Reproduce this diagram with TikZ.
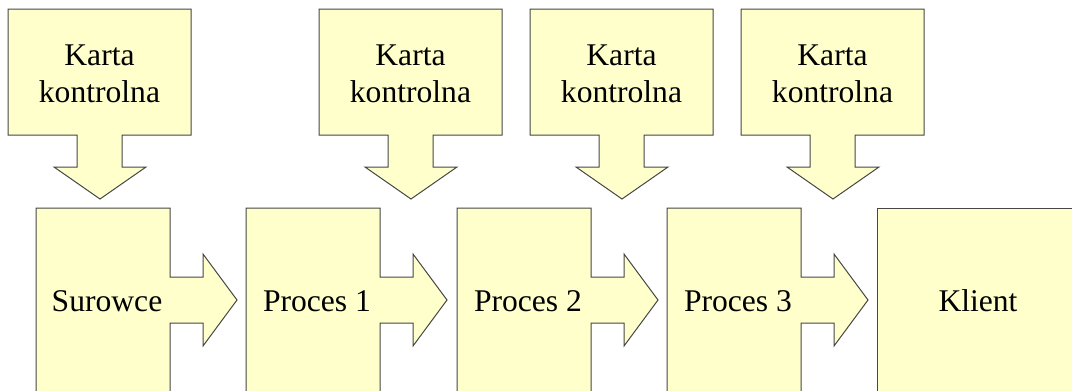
\documentclass[tikz,border=0pt]{standalone}
\usepackage{fontspec}
\setmainfont{Liberation Serif}
\usepackage{tikz}
\usetikzlibrary{positioning}

\definecolor{kfill}{RGB}{255,255,204}
\definecolor{kdraw}{RGB}{70,70,70}

\begin{document}
\begin{tikzpicture}[x=0.75pt, y=-0.75pt,
    outline/.style = {fill=kfill, draw=kdraw, line width=0.75pt, line join=miter},
    txt/.style     = {font=\fontsize{23.7}{27.75}\selectfont, align=center, inner sep=0pt},
                            ]
    \useasboundingbox (0,0) rectangle (1072,390);
    \clip (0,0) rectangle (1072,390);
    % karty kontrolne (box with arrow down)
    \foreach \x [count=\i] in {8,319,530,741}
    {
    \begin{scope}[shift={(\x,0)}]
      \draw[outline] (0,9) -- (183,9) -- (183,135) -- (114,135) -- (114,167) -- (138,167)
                     -- (92,199) -- (46,167) -- (69,167) -- (69,135) -- (0,135) -- cycle;
      \node[txt] (kk\i) at (91.5,74) {Karta\\kontrolna};
    \end{scope}
    }
    % surowce and procesy (box with arrow right)
    \foreach \x/\nm/\t in {36/sur/Surowce, 246/p1/Proces 1, 457/p2/Proces 2, 667/p3/Proces 3}
    {
    \begin{scope}[shift={(\x,0)}]
      \draw[outline] (0,208) -- (134,208) -- (134,277) -- (167,277) -- (167,254)
                     -- (201,300) -- (167,346) -- (167,323) -- (134,323) -- (134,400)
                     -- (0,400) -- cycle;
      \node[txt, anchor=base] (\nm) at (71,311) {\t};
    \end{scope}
    }
    % klient
    \draw[outline] (877,208) rectangle (1085,400);
    \node[txt, anchor=base] (kl) at (978,311) {Klient};
\end{tikzpicture}
\end{document}
